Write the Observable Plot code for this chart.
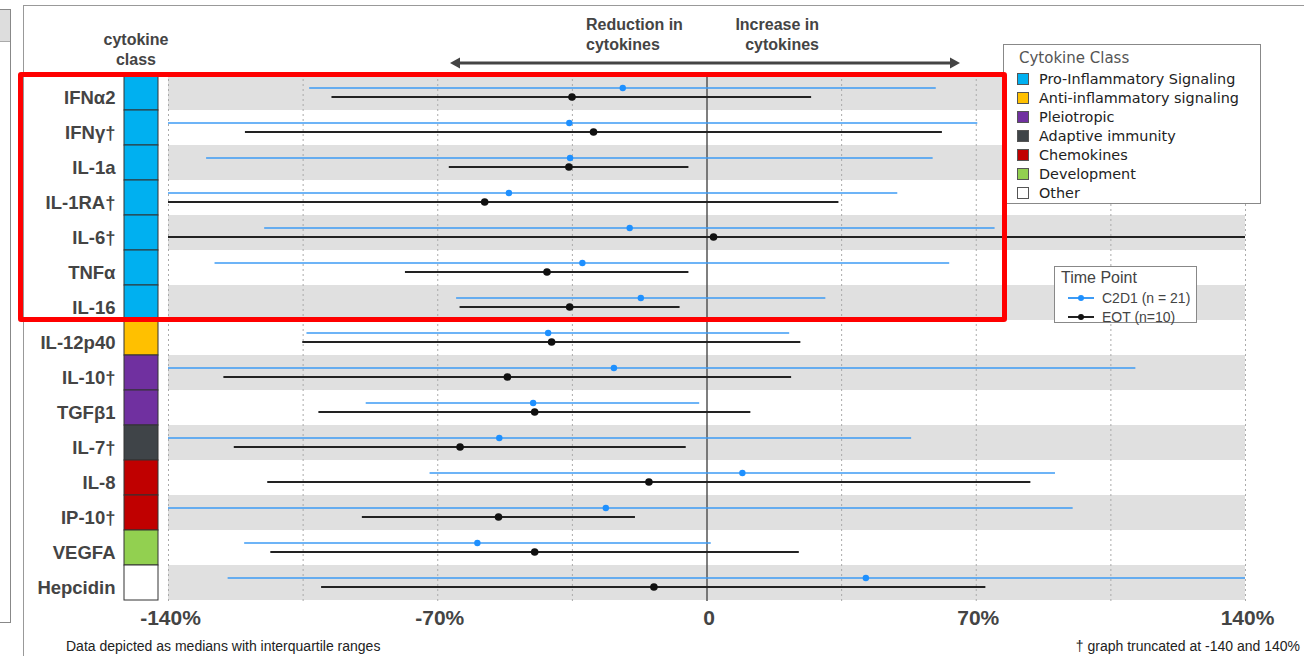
<!DOCTYPE html>
<html><head><meta charset="utf-8">
<script src="https://cdn.jsdelivr.net/npm/d3@7"></script>
<script src="https://cdn.jsdelivr.net/npm/@observablehq/plot@0.6"></script>
<style>
html,body{margin:0;padding:0;background:#fff;}
#root{position:relative;width:1304px;height:656px;overflow:hidden;font-family:"Liberation Sans",Arial,sans-serif;}
.abs{position:absolute;}
.hdr{font-weight:bold;font-size:16px;line-height:20px;color:#444;}
.leg1 .item{position:absolute;height:18px;line-height:18px;font-size:14.4px;color:#222;white-space:nowrap;}
.sw{position:absolute;width:12px;height:12px;box-sizing:border-box;border:1px solid #555;}
.foot{font-size:14px;line-height:16px;color:#222;white-space:nowrap;}
</style></head>
<body><div id="root">
  <div class="abs" style="left:0;top:9px;width:10px;height:612px;border:1px solid #888;border-left:none;">
    <div style="height:31px;background:#ddd;border-bottom:1px solid #aaa;"></div>
  </div>
  <div class="abs" style="left:23px;top:5px;width:1400px;height:800px;border-left:1px solid #999;border-top:1px solid #999;"></div>
  <div id="main" class="abs" style="left:0;top:0;"></div>
  <div id="cls" class="abs" style="left:0;top:0;"></div>
  <div class="abs hdr" style="left:86px;top:30px;width:100px;text-align:center;">cytokine<br>class</div>
  <div class="abs hdr" style="left:586px;top:15px;white-space:nowrap;">Reduction in<br>cytokines</div>
  <div class="abs hdr" style="left:719px;top:15px;width:100px;text-align:right;white-space:nowrap;">Increase in<br>cytokines</div>
  <svg class="abs" style="left:440px;top:53px;" width="530" height="20">
    <line x1="16" y1="10" x2="514" y2="10" stroke="#444" stroke-width="3"/>
    <path d="M10,10 L20,4.5 L20,15.5 Z" fill="#444"/>
    <path d="M520,10 L510,4.5 L510,15.5 Z" fill="#444"/>
  </svg>
  <div id="leg1" class="abs leg1" style="left:1003px;top:44px;width:256px;height:158px;border:1px solid #888;background:#fff;font-family:'DejaVu Sans',Verdana,sans-serif;">
    <div class="abs" style="left:15px;top:4px;font-size:15px;color:#555;line-height:18px;">Cytokine Class</div>
  </div>
  <div id="leg2" class="abs" style="left:1054px;top:266px;width:141px;height:55px;border:1px solid #888;background:#fff;color:#444;">
    <div class="abs" style="left:6px;top:2px;font-size:16px;line-height:18px;">Time Point</div>
  </div>
  <div class="abs" style="left:18px;top:72px;width:989px;height:250px;box-sizing:border-box;border:5px solid #ff0000;border-radius:3px;"></div>
  <div class="abs foot" style="left:66px;top:638px;">Data depicted as medians with interquartile ranges</div>
  <div class="abs foot" style="right:4px;top:638px;">† graph truncated at -140 and 140%</div>
</div>
<script>
const cytokines = ["IFNα2","IFNγ†","IL-1a","IL-1RA†","IL-6†","TNFα","IL-16","IL-12p40","IL-10†","TGFβ1","IL-7†","IL-8","IP-10†","VEGFA","Hepcidin"];
const cytokineClass = ["Pro-Inflammatory Signaling","Pro-Inflammatory Signaling","Pro-Inflammatory Signaling","Pro-Inflammatory Signaling","Pro-Inflammatory Signaling","Pro-Inflammatory Signaling","Pro-Inflammatory Signaling","Anti-inflammatory signaling","Pleiotropic","Pleiotropic","Adaptive immunity","Chemokines","Chemokines","Development","Other"];
const classNames = ["Pro-Inflammatory Signaling","Anti-inflammatory signaling","Pleiotropic","Adaptive immunity","Chemokines","Development","Other"];
const classColors = ["#00b0f0","#ffc000","#7030a0","#3f4448","#c00000","#92d050","#ffffff"];

const c2d1Median = [-21.9,-35.8,-35.6,-51.5,-20.1,-32.4,-17.2,-41.3,-24.2,-45.2,-54.0,9.2,-26.3,-59.7,41.3];
const c2d1Low    = [-103.3,-140,-130.1,-140,-115.0,-127.9,-65.1,-104.0,-140,-88.6,-140,-72.0,-140,-120.2,-124.5];
const c2d1High   = [59.6,70.4,58.8,49.6,74.9,63.1,30.9,21.5,111.5,-1.9,53.2,90.6,95.2,1.1,140];

const eotMedian = [-35.1,-29.5,-35.9,-57.8,1.7,-41.6,-35.7,-40.4,-51.9,-44.8,-64.2,-15.1,-54.2,-44.8,-13.8];
const eotLow    = [-97.5,-120.0,-67.0,-140,-140,-78.4,-64.2,-105.1,-125.6,-100.9,-122.9,-114.2,-89.6,-113.4,-100.2];
const eotHigh   = [27.2,61.2,-4.7,34.3,140,-4.7,-7.0,24.4,22.0,11.4,-5.4,84.2,-18.6,24.0,72.5];

const seriesNames = ["C2D1 (n = 21)","EOT (n=10)"];
const seriesLine = ["#3d9bf5","#222222"];
const seriesDot = ["#1e90ff","#111111"];

const xDomain = [-140, 140];
const xTickLabels = [-140, -70, 0, 70, 140];
const gridValues = [-140,-105,-70,-35,35,70,105,140];

const c2d1 = cytokines.map((name,i)=>({name, median:c2d1Median[i], low:c2d1Low[i], high:c2d1High[i]}));
const eot  = cytokines.map((name,i)=>({name, median:eotMedian[i], low:eotLow[i], high:eotHigh[i]}));
const bands = cytokines.filter((d,i)=>i%2===0).map(name=>({name, x1:xDomain[0], x2:xDomain[1]}));
const classRows = cytokines.map((name,i)=>({name, col:"class", cls:cytokineClass[i]}));

const H = 656, MT = 74, MB = 55;
const fmt = d => d === 0 ? "0" : `${d}%`;

const main = Plot.plot({
  width: 1304, height: H,
  marginLeft: 168, marginRight: 59, marginTop: MT, marginBottom: MB,
  style: {background:"transparent", fontFamily:"'Liberation Sans', Arial, sans-serif", fontSize:"21px", fontWeight:"bold", color:"#444", overflow:"visible"},
  x: {domain: xDomain, axis: null},
  y: {domain: cytokines, padding: 0, axis: null},
  marks: [
    Plot.barX(bands, {x1:"x1", x2:"x2", y:"name", fill:"#e0e0e0"}),
    Plot.ruleX(gridValues, {stroke:"#aaa", strokeWidth:1, strokeDasharray:"2,3"}),
    Plot.ruleX([0], {stroke:"#555", strokeWidth:1.5}),
    Plot.ruleY(c2d1, {y:"name", x1:"low", x2:"high", stroke:seriesLine[0], strokeWidth:1.6, dy:-5}),
    Plot.ruleY(eot, {y:"name", x1:"low", x2:"high", stroke:seriesLine[1], strokeWidth:2, dy:4}),
    Plot.dot(c2d1, {x:"median", y:"name", fill:seriesDot[0], r:3.2, dy:-5}),
    Plot.dot(eot, {x:"median", y:"name", fill:seriesDot[1], r:3.8, dy:4}),
    Plot.text(xTickLabels, {x: d => d, text: fmt, frameAnchor:"bottom", lineAnchor:"top", dy: 9, dx: 2, fill:"#444", fontSize: 21, fontWeight:"bold"})
  ]
});
document.getElementById("main").appendChild(main);

const cls = Plot.plot({
  width: 158, height: H,
  marginLeft: 124, marginRight: 0, marginTop: MT, marginBottom: MB,
  style: {background:"transparent", fontFamily:"'Liberation Sans', Arial, sans-serif", fontSize:"18.5px", fontWeight:"bold", color:"#444", overflow:"visible"},
  x: {domain:["class"], padding:0, axis:null},
  y: {domain: cytokines, padding:0, axis:null},
  color: {domain: classNames, range: classColors},
  marks: [
    Plot.cell(classRows, {x:"col", y:"name", fill:"cls", stroke:"#333", strokeWidth:1, inset:0}),
    Plot.text(cytokines, {y: d => d, text: d => d, frameAnchor:"left", textAnchor:"end", dx:-9, dy:5.5, fill:"#444", fontSize:18.5, fontWeight:"bold"})
  ]
});
document.getElementById("cls").appendChild(cls);

// legends
const leg1 = document.getElementById("leg1");
classNames.forEach((c,i)=>{
  const cy = 34 + i*19;
  const sw = document.createElement("div");
  sw.className = "sw"; sw.style.left = "13px"; sw.style.top = (cy-6)+"px"; sw.style.background = classColors[i];
  leg1.appendChild(sw);
  const t = document.createElement("div");
  t.className = "item"; t.style.left = "35px"; t.style.top = (cy-9)+"px"; t.textContent = c;
  leg1.appendChild(t);
});
const leg2 = document.getElementById("leg2");
seriesNames.forEach((s,i)=>{
  const cy = 31 + i*19;
  const ln = document.createElement("div");
  ln.className="abs"; ln.style.cssText = `left:13px;top:${cy-0.75}px;width:26px;height:1.5px;background:${seriesLine[i]};`;
  leg2.appendChild(ln);
  const dt = document.createElement("div");
  dt.className="abs"; dt.style.cssText = `left:23px;top:${cy-3}px;width:6px;height:6px;border-radius:3px;background:${seriesDot[i]};`;
  leg2.appendChild(dt);
  const t = document.createElement("div");
  t.className="abs"; t.style.cssText = `left:47px;top:${cy-9}px;font-size:14px;line-height:18px;white-space:nowrap;`;
  t.textContent = s;
  leg2.appendChild(t);
});
</script>
</body></html>
